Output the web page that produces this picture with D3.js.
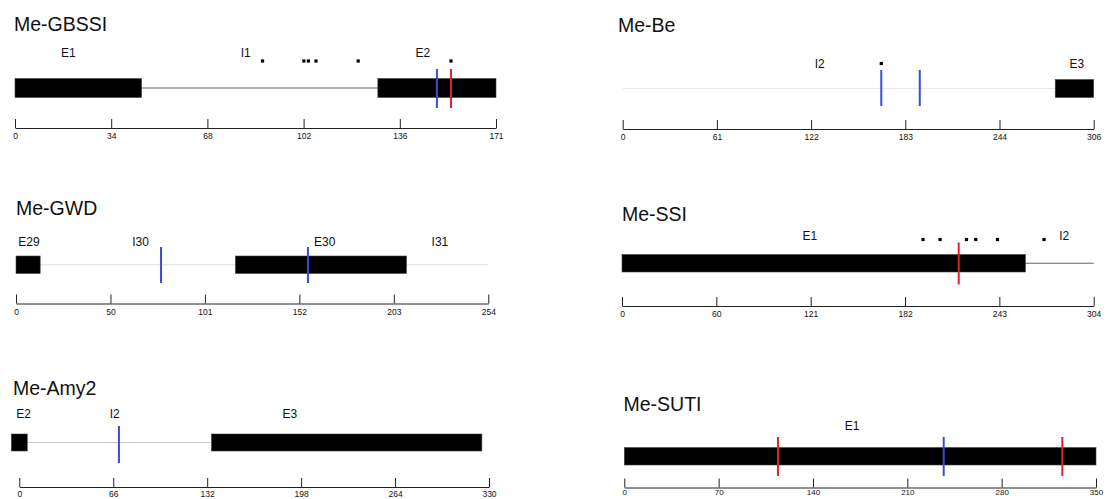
<!DOCTYPE html>
<html>
<head>
<meta charset="utf-8">
<script src="https://cdn.jsdelivr.net/npm/d3@7"></script>
<style>
  body { margin: 0; background: #fff; }
  svg { display: block; }
</style>
</head>
<body>
<div id="chart"></div>
<script>
var svgWidth = 1112;
var svgHeight = 499;

// gene data
var geneNames = ["Me-GBSSI", "Me-Be", "Me-GWD", "Me-SSI", "Me-Amy2", "Me-SUTI"];
var geneLengths = [171, 306, 254, 304, 330, 350];
var tickLabels = [
  ["0", "34", "68", "102", "136", "171"],
  ["0", "61", "122", "183", "244", "306"],
  ["0", "50", "101", "152", "203", "254"],
  ["0", "60", "121", "182", "243", "304"],
  ["0", "66", "132", "198", "264", "330"],
  ["0", "70", "140", "210", "280", "350"]
];
var intronSpans = [[0, 171], [0, 281], [0, 254], [0, 304], [0, 135], [0, 350]];
var exons = [
  [[0, 45], [129, 171]],
  [[281, 306]],
  [[0, 13], [118, 210]],
  [[0, 260]],
  [[-5.6, 5.6], [135, 325]],
  [[0, 350]]
];
var blueMarks = [[150], [168, 193], [78, 157], [], [70], [237]];
var redMarks = [[155], [], [], [217], [], [114, 325]];
var dotMarks = [
  [88, 102.7, 104.3, 107, 122, 155],
  [168],
  [],
  [194, 205, 222, 228, 242, 272],
  [],
  []
];
var regionNames = [
  ["E1", "I1", "E2"],
  ["I2", "E3"],
  ["E29", "I30", "E30", "I31"],
  ["E1", "I2"],
  ["E2", "I2", "E3"],
  ["E1"]
];
var regionPos = [
  [19, 82, 145],
  [128, 295],
  [7, 67, 166, 228],
  [121, 285],
  [3, 67, 190],
  [169]
];

// layout of each panel (pixels)
var panels = [
  {x0: 15, x1: 496, tx: 14, title: 31, label: 57, dot: 61, boxTop: 78.5, boxH: 19, lineTop: 69, lineH: 39, axis: 128, pad: 5, fs: 8.5, intron: "#666"},
  {x0: 622.7, x1: 1093.7, tx: 618, title: 32, label: 67.5, dot: 63.5, boxTop: 79.5, boxH: 18, lineTop: 70, lineH: 36, axis: 129, pad: 5, fs: 8.5, intron: "#e8e8e8"},
  {x0: 16, x1: 488.3, tx: 16, title: 215, label: 246, dot: 240, boxTop: 256, boxH: 17.5, lineTop: 247, lineH: 36, axis: 303.5, pad: 5, fs: 8.5, intron: "#ddd"},
  {x0: 622, x1: 1093.7, tx: 622, title: 221, label: 240, dot: 239.5, boxTop: 254.5, boxH: 17.5, lineTop: 242.5, lineH: 42, axis: 306, pad: 5, fs: 8.5, intron: "#666"},
  {x0: 19.3, x1: 489, tx: 13, title: 395, label: 417.5, dot: 410, boxTop: 434, boxH: 17, lineTop: 426, lineH: 37, axis: 487, pad: 3.5, fs: 8.5, intron: "#c8c8c8"},
  {x0: 624.3, x1: 1096, tx: 623.5, title: 411, label: 429.5, dot: 425, boxTop: 447.5, boxH: 17.5, lineTop: 437, lineH: 39, axis: 487.5, pad: 2, fs: 8, intron: "#666"}
];

var blueColor = "#3b4bd6";
var redColor = "#e3212b";
var fontFamily = "'Liberation Sans', Arial, Helvetica, sans-serif";

var svg = d3.select("#chart")
  .append("svg")
  .attr("width", svgWidth)
  .attr("height", svgHeight);

geneNames.forEach(function(name, g) {
  var p = panels[g];
  var len = geneLengths[g];
  var x = d3.scaleLinear().domain([0, len]).range([p.x0, p.x1]);
  var grp = svg.append("g");

  // title
  grp.append("text")
    .attr("x", p.tx)
    .attr("y", p.title)
    .attr("font-family", fontFamily)
    .attr("font-size", "19.5px")
    .attr("fill", "#111")
    .text(name);

  // intron line
  grp.append("line")
    .attr("x1", x(intronSpans[g][0]))
    .attr("x2", x(intronSpans[g][1]))
    .attr("y1", p.boxTop + p.boxH / 2)
    .attr("y2", p.boxTop + p.boxH / 2)
    .attr("stroke", p.intron)
    .attr("stroke-width", 1.2);

  // exons
  grp.selectAll("rect.exon").data(exons[g]).enter()
    .append("rect")
    .attr("class", "exon")
    .attr("x", d => x(d[0]))
    .attr("y", p.boxTop)
    .attr("width", d => x(d[1]) - x(d[0]))
    .attr("height", p.boxH)
    .attr("fill", "#000")
    .attr("stroke", "#444")
    .attr("stroke-width", 0.6);

  // markers
  var marks = blueMarks[g].map(v => ({v: v, c: blueColor}))
    .concat(redMarks[g].map(v => ({v: v, c: redColor})));
  grp.selectAll("line.mark").data(marks).enter()
    .append("line")
    .attr("class", "mark")
    .attr("x1", d => x(d.v))
    .attr("x2", d => x(d.v))
    .attr("y1", p.lineTop)
    .attr("y2", p.lineTop + p.lineH)
    .attr("stroke", d => d.c)
    .attr("stroke-width", 2);

  // dots
  grp.selectAll("rect.dot").data(dotMarks[g]).enter()
    .append("rect")
    .attr("class", "dot")
    .attr("x", d => x(d) - 1.6)
    .attr("y", p.dot - 1.6)
    .attr("width", 3.2)
    .attr("height", 3.2)
    .attr("fill", "#000");

  // region labels
  grp.selectAll("text.region").data(regionNames[g]).enter()
    .append("text")
    .attr("class", "region")
    .attr("x", (d, i) => x(regionPos[g][i]))
    .attr("y", p.label)
    .attr("text-anchor", "middle")
    .attr("font-family", fontFamily)
    .attr("font-size", "12px")
    .attr("fill", "#111")
    .text(d => d);

  // axis, labels sit below the upward ticks
  var tickVals = d3.range(6).map(i => i * len / 5);
  var axis = d3.axisBottom(x)
    .tickValues(tickVals)
    .tickFormat((d, i) => tickLabels[g][i])
    .tickSizeInner(-9)
    .tickSizeOuter(0)
    .tickPadding(p.pad);

  var ax = grp.append("g")
    .attr("transform", `translate(0, ${p.axis})`)
    .call(axis);
  ax.attr("font-family", fontFamily).attr("font-size", p.fs + "px");
  ax.select(".domain").attr("stroke", "#222").attr("stroke-width", 1);
  ax.selectAll(".tick line").attr("stroke", "#222").attr("stroke-width", 1);
  ax.selectAll(".tick text").attr("fill", "#111");
});
</script>
</body>
</html>
